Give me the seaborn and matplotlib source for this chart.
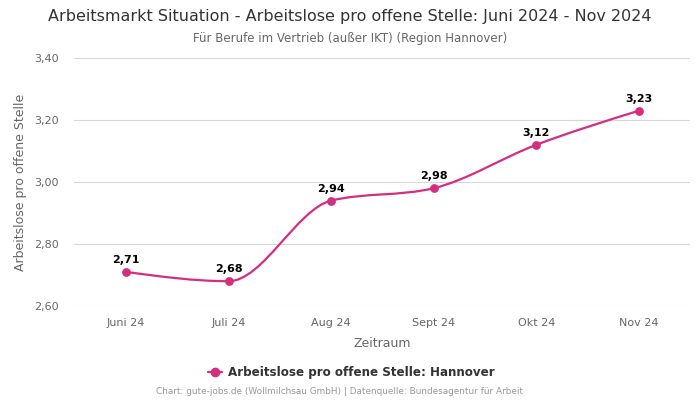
import numpy as np
import pandas as pd
import matplotlib
matplotlib.use("Agg")
import matplotlib.pyplot as plt
from matplotlib.path import Path
from matplotlib.patches import PathPatch
import seaborn as sns

months = ["Juni 24", "Juli 24", "Aug 24", "Sept 24", "Okt 24", "Nov 24"]
values = [2.71, 2.68, 2.94, 2.98, 3.12, 3.23]
y_ticks = [2.60, 2.80, 3.00, 3.20, 3.40]

COLOR = "#d42e7e"

sns.set_theme(style="white")
plt.rcParams["font.family"] = ["DejaVu Sans"]

df = pd.DataFrame({"x": np.arange(len(months)), "y": values})


def monotone_path(xs, ys):
    # d3 curveMonotoneX style cubic bezier path through the data points
    n = len(xs)
    h = np.diff(xs)
    s = np.diff(ys) / h
    t = np.zeros(n)
    for i in range(1, n - 1):
        p = (s[i - 1] * h[i] + s[i] * h[i - 1]) / (h[i - 1] + h[i])
        t[i] = (np.sign(s[i - 1]) + np.sign(s[i])) * min(abs(s[i - 1]), abs(s[i]), 0.5 * abs(p))
    t[0] = (3 * s[0] - t[1]) / 2
    t[-1] = (3 * s[-1] - t[-2]) / 2
    verts = [(xs[0], ys[0])]
    codes = [Path.MOVETO]
    for i in range(n - 1):
        dx = h[i] / 3
        verts += [(xs[i] + dx, ys[i] + dx * t[i]),
                  (xs[i + 1] - dx, ys[i + 1] - dx * t[i + 1]),
                  (xs[i + 1], ys[i + 1])]
        codes += [Path.CURVE4] * 3
    return Path(verts, codes)


fig = plt.figure(figsize=(7, 4), dpi=100)
ax = fig.add_axes([0.106, 0.235, 0.88, 0.62])

ax.add_patch(PathPatch(monotone_path(df["x"].values.astype(float), df["y"].values),
                       facecolor="none", edgecolor=COLOR, lw=1.6, zorder=3))
sns.scatterplot(data=df, x="x", y="y", color=COLOR, s=40, edgecolor=COLOR,
                linewidth=0, zorder=4, ax=ax, legend=False)

for xi, yi in zip(df["x"], df["y"]):
    ax.annotate(f"{yi:.2f}".replace(".", ","), (xi, yi), xytext=(0, 5),
                textcoords="offset points", ha="center", va="bottom",
                fontsize=8, fontweight="bold", color="black", zorder=5)

ax.set_xlim(-0.505, 5.5)
ax.set_ylim(2.60, 3.40)
ax.set_yticks(y_ticks)
ax.set_yticklabels([f"{v:.2f}".replace(".", ",") for v in y_ticks])
ax.set_xticks(df["x"])
ax.set_xticklabels(months)
ax.tick_params(axis="both", length=0, labelsize=8, labelcolor="#666666")
ax.tick_params(axis="x", pad=9)
ax.tick_params(axis="y", pad=11)
ax.grid(axis="y", color="#d8d8d8", lw=0.8)
ax.set_axisbelow(True)
for sp in ax.spines.values():
    sp.set_visible(False)

ax.set_xlabel("Zeitraum", fontsize=9, color="#666666", labelpad=6)
ax.set_ylabel("Arbeitslose pro offene Stelle", fontsize=9, color="#666666", labelpad=5)

fig.text(0.5, 0.958, "Arbeitsmarkt Situation - Arbeitslose pro offene Stelle: Juni 2024 - Nov 2024",
         ha="center", va="center", fontsize=11.5, color="#333333")
fig.text(0.5, 0.903, "Für Berufe im Vertrieb (außer IKT) (Region Hannover)",
         ha="center", va="center", fontsize=8.5, color="#666666")

handle = plt.Line2D([], [], color=COLOR, lw=1.6, marker="o", markersize=6)
fig.legend([handle], ["Arbeitslose pro offene Stelle: Hannover"], loc="center",
           bbox_to_anchor=(0.502, 0.068), frameon=False, handlelength=1.2,
           handletextpad=0.5, prop={"weight": "bold", "size": 8.6}, labelcolor="#333333")

fig.text(0.485, 0.02, "Chart: gute-jobs.de (Wollmilchsau GmbH) | Datenquelle: Bundesagentur für Arbeit",
         ha="center", va="center", fontsize=6.4, color="#999999")

fig.savefig("out.png", dpi=100)
